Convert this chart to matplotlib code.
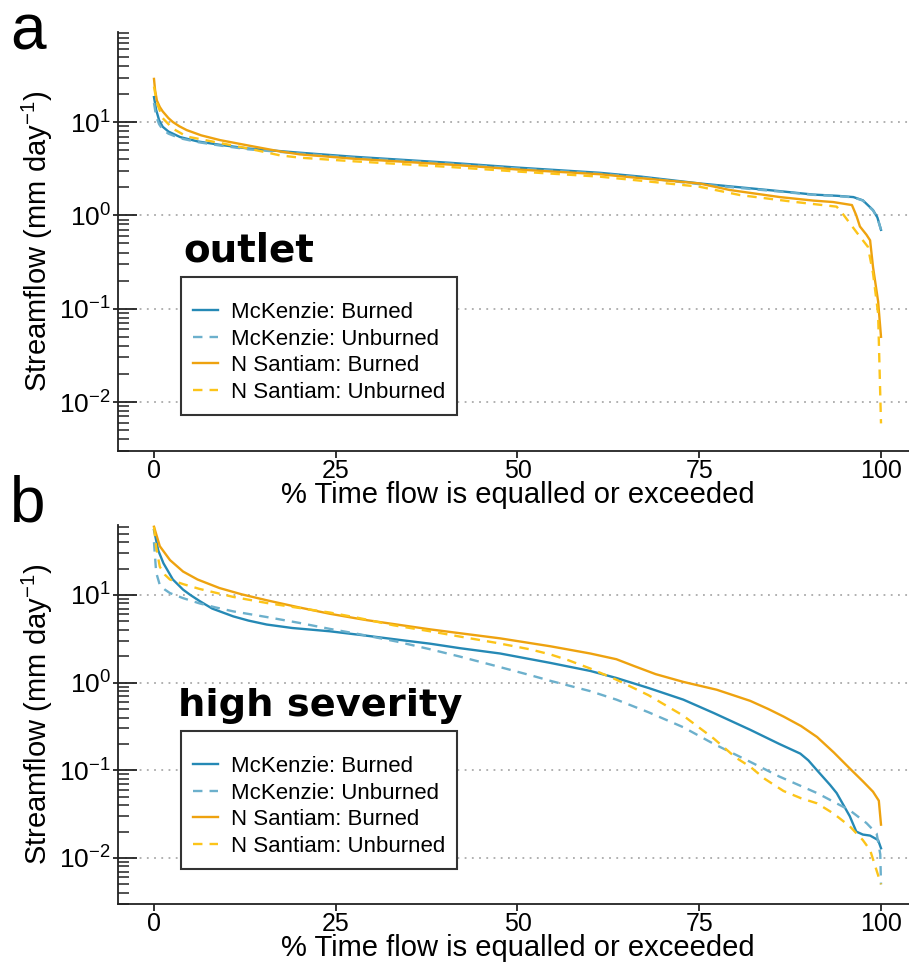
import math

import matplotlib
matplotlib.use("Agg")
import matplotlib.pyplot as plt
from matplotlib.lines import Line2D
from matplotlib.ticker import LogLocator, NullFormatter, FixedLocator
from matplotlib.transforms import blended_transform_factory

plt.rcParams["font.family"] = ["Liberation Sans", "DejaVu Sans"]
plt.rcParams["mathtext.fontset"] = "custom"
plt.rcParams["mathtext.rm"] = "Liberation Sans"
plt.rcParams["mathtext.it"] = "Liberation Sans:italic"
plt.rcParams["mathtext.default"] = "regular"

# ── data: flow duration curves ─────────────────────────────────────────────
# panel a: outlet
a_mck_burn_x = [0, 0.3, 0.7, 1.2, 2, 3.6, 6, 9.1, 13, 20.1, 27.4, 40.7, 50, 61.3,
                67, 75, 82, 86, 90.7, 94, 96.2, 97.5, 98.9, 99.5, 100]
a_mck_burn_y = [18.5, 13.5, 10.5, 8.9, 7.9, 6.9, 6.2, 5.7, 5.2, 4.69, 4.25, 3.66, 3.25, 2.86,
                2.6, 2.2, 1.95, 1.82, 1.67, 1.62, 1.57, 1.45, 1.14, 0.95, 0.70]

a_mck_unb_x = [0, 0.3, 0.7, 1.2, 2, 3.6, 6, 9.1, 13, 20.1, 27.4, 40.7, 50, 61.3,
               67, 75, 82, 86, 90.7, 94, 96.2, 97.5, 98.9, 99.5, 100]
a_mck_unb_y = [16, 11.5, 9.5, 8.3, 7.5, 6.7, 6.1, 5.6, 5.1, 4.6, 4.15, 3.58, 3.18, 2.8,
               2.55, 2.16, 1.92, 1.8, 1.66, 1.61, 1.56, 1.44, 1.13, 0.94, 0.70]

a_ns_burn_x = [0, 0.15, 0.4, 0.8, 1.2, 2, 2.6, 3.5, 4.5, 6.5, 9.1, 13, 17.3, 20.1, 27.4,
               40.7, 50, 61.3, 67, 75, 79.2, 86.1, 90.7, 93.4, 96, 96.6, 97.1, 98, 98.5,
               98.9, 99.6, 100]
a_ns_burn_y = [29, 22, 17, 14.5, 13, 11, 10, 9, 8.2, 7.2, 6.4, 5.6, 4.85, 4.5, 4.05,
               3.5, 3.1, 2.76, 2.5, 2.2, 1.87, 1.57, 1.44, 1.39, 1.29, 1.0, 0.76, 0.62, 0.54,
               0.28, 0.12, 0.05]

a_ns_unb_x = [0, 0.4, 1.2, 2.6, 4.5, 9.1, 13, 17.3, 20.1, 27.4, 40.7, 50, 61.3,
              67, 75, 80.6, 87.9, 93.9, 94.9, 96.7, 98.2, 98.9, 99.6, 100]
a_ns_unb_y = [24, 16, 11, 8.5, 7.0, 5.96, 5.2, 4.4, 4.15, 3.8, 3.3, 2.95, 2.6,
              2.35, 2.03, 1.65, 1.40, 1.24, 1.0, 0.65, 0.46, 0.24, 0.089, 0.0059]

# panel b: high severity
b_mck_burn_x = [0, 0.6, 1.3, 2.6, 4, 5, 6.3, 8, 10.9, 13, 15.5, 19, 24.2, 29, 33.8, 38,
                42.1, 47.6, 54.5, 60, 63.6, 68, 72.8, 77, 82, 86, 88.9, 90, 91.2, 93,
                93.9, 95.7, 96.6, 97.5, 98.5, 99.6, 100]
b_mck_burn_y = [55, 32, 23, 15, 11.5, 10, 8.5, 7.0, 5.7, 5.1, 4.6, 4.2, 3.85, 3.45, 3.07, 2.78,
                2.47, 2.15, 1.68, 1.36, 1.13, 0.87, 0.64, 0.45, 0.29, 0.2, 0.155, 0.13, 0.1, 0.068,
                0.055, 0.03, 0.02, 0.0185, 0.018, 0.016, 0.0129]

b_mck_unb_x = [0, 0.3, 0.8, 1.5, 2.2, 4, 6.3, 8.5, 10.9, 15.5, 20, 24.2, 28, 33.4, 38,
               42.1, 47, 51.7, 54.5, 60, 63.6, 68, 72.8, 77, 82, 86, 91.2, 95.7, 98,
               99.4, 99.9, 100]
b_mck_unb_y = [40, 18, 13, 11.5, 10.5, 9.2, 8.0, 7.2, 6.5, 5.6, 4.8, 4.1, 3.6, 2.94, 2.4,
               1.98, 1.55, 1.22, 1.05, 0.8, 0.64, 0.46, 0.31, 0.2, 0.125, 0.085, 0.055, 0.035, 0.025,
               0.019, 0.011, 0.005]

b_ns_burn_x = [0, 0.8, 2.2, 4, 6, 9, 12, 15.5, 20, 24.2, 29, 33.8, 38, 42.1, 47.6, 54.5,
               60, 63.6, 66, 69, 72.8, 77.4, 82, 84.5, 86.6, 89, 91.2, 93.5, 95.7, 97.5,
               98.9, 99.7, 100]
b_ns_burn_y = [60, 36, 25, 18.5, 15, 12, 10.2, 8.7, 7.2, 6.1, 5.2, 4.55, 4.05, 3.66, 3.2, 2.6,
               2.15, 1.85, 1.55, 1.25, 1.02, 0.83, 0.62, 0.5, 0.41, 0.32, 0.24, 0.16, 0.105, 0.075,
               0.057, 0.045, 0.024]

b_ns_unb_x = [0, 0.3, 0.8, 1.5, 2.2, 4, 6.3, 10.9, 15.5, 20, 24.2, 28, 33, 38, 42.1, 47,
              51.7, 54.5, 57, 60, 63.6, 68, 72.8, 77, 80, 82, 84, 86.6, 89, 91.2, 93.5,
              95.7, 97.5, 98.5, 100]
b_ns_unb_y = [60, 35, 21, 17, 15, 13.3, 11.7, 9.5, 8.1, 7.1, 6.3, 5.5, 4.5, 3.85, 3.35, 2.85,
              2.4, 2.1, 1.8, 1.45, 1.08, 0.72, 0.42, 0.23, 0.14, 0.11, 0.08, 0.058, 0.048, 0.042, 0.032,
              0.023, 0.016, 0.0123, 0.005]

series_labels = ["McKenzie: Burned", "McKenzie: Unburned",
                 "N Santiam: Burned", "N Santiam: Unburned"]
panel_titles = ["outlet", "high severity"]
panel_letters = ["a", "b"]
x_ticks = [0, 25, 50, 75, 100]
decades = [1e-2, 1e-1, 1e0, 1e1]

COLOURS = ["#2589b5", "#6cb0cc", "#eea20f", "#fcc419"]
STYLES = ["-", (0, (4, 3)), "-", (0, (4, 3))]
LW = 1.7
AX_COL = "#222222"

W, H = 909, 969
fig = plt.figure(figsize=(W / 100, H / 100), dpi=100)


def px_axes(left, top, right, bottom):
    return fig.add_axes([left / W, 1 - bottom / H, (right - left) / W, (bottom - top) / H])


ax_a = px_axes(118, 32, 909, 451)
ax_b = px_axes(118, 525, 909, 904)

panels = [
    (ax_a, [(a_mck_burn_x, a_mck_burn_y), (a_mck_unb_x, a_mck_unb_y),
            (a_ns_burn_x, a_ns_burn_y), (a_ns_unb_x, a_ns_unb_y)],
     (10 ** -2.525, 10 ** 1.965)),
    (ax_b, [(b_mck_burn_x, b_mck_burn_y), (b_mck_unb_x, b_mck_unb_y),
            (b_ns_burn_x, b_ns_burn_y), (b_ns_unb_x, b_ns_unb_y)],
     (10 ** -2.525, 10 ** 1.798)),
]

for i, (ax, curves, ylim) in enumerate(panels):
    for (xs, ys), col, ls in zip(curves, COLOURS, STYLES):
        ax.plot(xs, ys, color=col, linestyle=ls, linewidth=LW, zorder=3,
                solid_joinstyle="round")

    ax.set_yscale("log")
    ax.set_ylim(*ylim)
    ax.set_xlim(-4.95, 103.85)

    for side in ["top", "right"]:
        ax.spines[side].set_visible(False)
    for side in ["left", "bottom"]:
        ax.spines[side].set_color(AX_COL)
        ax.spines[side].set_linewidth(1.3)

    ax.yaxis.set_major_locator(FixedLocator(decades))
    ax.yaxis.set_minor_locator(LogLocator(base=10, subs=range(2, 10), numticks=50))
    ax.yaxis.set_minor_formatter(NullFormatter())
    ax.set_yticklabels([f"$10^{{{int(round(math.log10(d)))}}}$" for d in decades])
    ax.tick_params(axis="y", which="major", direction="in", length=14, width=1.3,
                   color=AX_COL, pad=5, labelsize=19)
    ax.tick_params(axis="y", which="minor", direction="in", length=8, width=1.1,
                   color=AX_COL)

    # short outward stubs of the major y ticks
    trans = blended_transform_factory(ax.transAxes, ax.transData)
    for d in decades:
        ax.plot([-5 / 791, 0], [d, d], transform=trans, clip_on=False,
                color=AX_COL, linewidth=1.3, solid_capstyle="butt")

    ax.set_xticks(x_ticks)
    ax.tick_params(axis="x", direction="out", length=5, width=1.3, color=AX_COL,
                   pad=1, labelsize=18)

    ax.yaxis.grid(True, which="major", linestyle=(0, (1, 3)), color="#aaaaaa",
                  linewidth=1.3)
    ax.set_axisbelow(True)

    handles = [Line2D([], [], color=c, linestyle=s, linewidth=LW)
               for c, s in zip(COLOURS, STYLES)]
    leg_bottom = 0.0859 if i == 0 else 0.0923
    leg = ax.legend(handles, series_labels, loc="lower left",
                    bbox_to_anchor=(0.0796, leg_bottom), borderaxespad=0,
                    fontsize=16, frameon=True, fancybox=False, framealpha=1,
                    edgecolor="#333333", handlelength=1.1, handletextpad=0.6,
                    labelspacing=0.25, borderpad=0.55, title=" ",
                    title_fontsize=6)
    leg.get_frame().set_linewidth(1.5)

# panel texts
fig.text(10 / W, 1 - 50 / H, panel_letters[0], fontsize=46, va="baseline", ha="left")
fig.text(10 / W, 1 - 521 / H, panel_letters[1], fontsize=46, va="baseline", ha="left")
fig.text(183 / W, 1 - 262 / H, panel_titles[0], fontsize=28, fontweight="bold",
         family="DejaVu Sans", va="baseline", ha="left")
fig.text(178 / W, 1 - 716 / H, panel_titles[1], fontsize=27.6, fontweight="bold",
         family="DejaVu Sans", va="baseline", ha="left")

ylab = "Streamflow (mm day$^{-1}$)"
xlab = "% Time flow is equalled or exceeded"
fig.text(37.5 / W, 1 - 241.5 / H, ylab, rotation=90, fontsize=21, ha="center", va="center")
fig.text(37.5 / W, 1 - 714.5 / H, ylab, rotation=90, fontsize=21, ha="center", va="center")
fig.text(518 / W, 1 - 503 / H, xlab, fontsize=21, ha="center", va="baseline")
fig.text(518 / W, 1 - 956 / H, xlab, fontsize=21, ha="center", va="baseline")

fig.savefig("out.png", dpi=100, facecolor="white")
